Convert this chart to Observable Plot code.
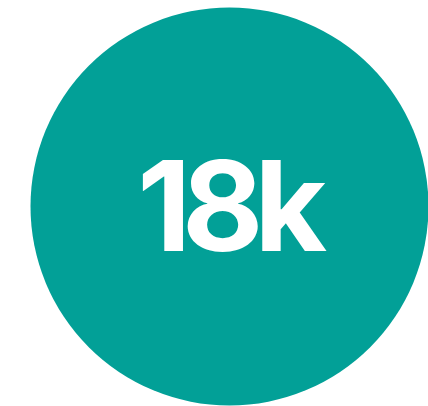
<!DOCTYPE html>
<html>
<head>
<meta charset="utf-8">
<script src="https://cdn.jsdelivr.net/npm/d3@7/dist/d3.min.js"></script>
<script src="https://cdn.jsdelivr.net/npm/@observablehq/plot@0.6/dist/plot.umd.min.js"></script>
<style>
  html, body { margin: 0; padding: 0; background: #fff; }
  svg { display: block; }
</style>
</head>
<body>
<div id="chart"></div>
<script>
const labels = ["18k"];
const values = [18000];

const data = labels.map((label, i) => ({ label, value: values[i] }));

const chart = Plot.plot({
  width: 428,
  height: 406,
  marginLeft: 30,
  marginRight: 0,
  marginTop: 6,
  marginBottom: 0,
  x: { axis: null, domain: [0, 2 * values[0]] },
  y: { axis: null, domain: [0, 2 * values[0]] },
  marks: [
    Plot.dot(data, { x: "value", y: "value", r: 199, fill: "#02a097" }),
    Plot.text(data, {
      x: "value",
      y: "value",
      text: "label",
      fill: "white",
      fontSize: 125,
      fontWeight: 700,
      fontFamily: "Inter",
      dx: -2,
      dy: 4,
      lineAnchor: "middle",
      textAnchor: "middle"
    })
  ]
});
chart.querySelectorAll("text").forEach(t => t.style.letterSpacing = "-9px");
document.getElementById("chart").appendChild(chart);
</script>
</body>
</html>
